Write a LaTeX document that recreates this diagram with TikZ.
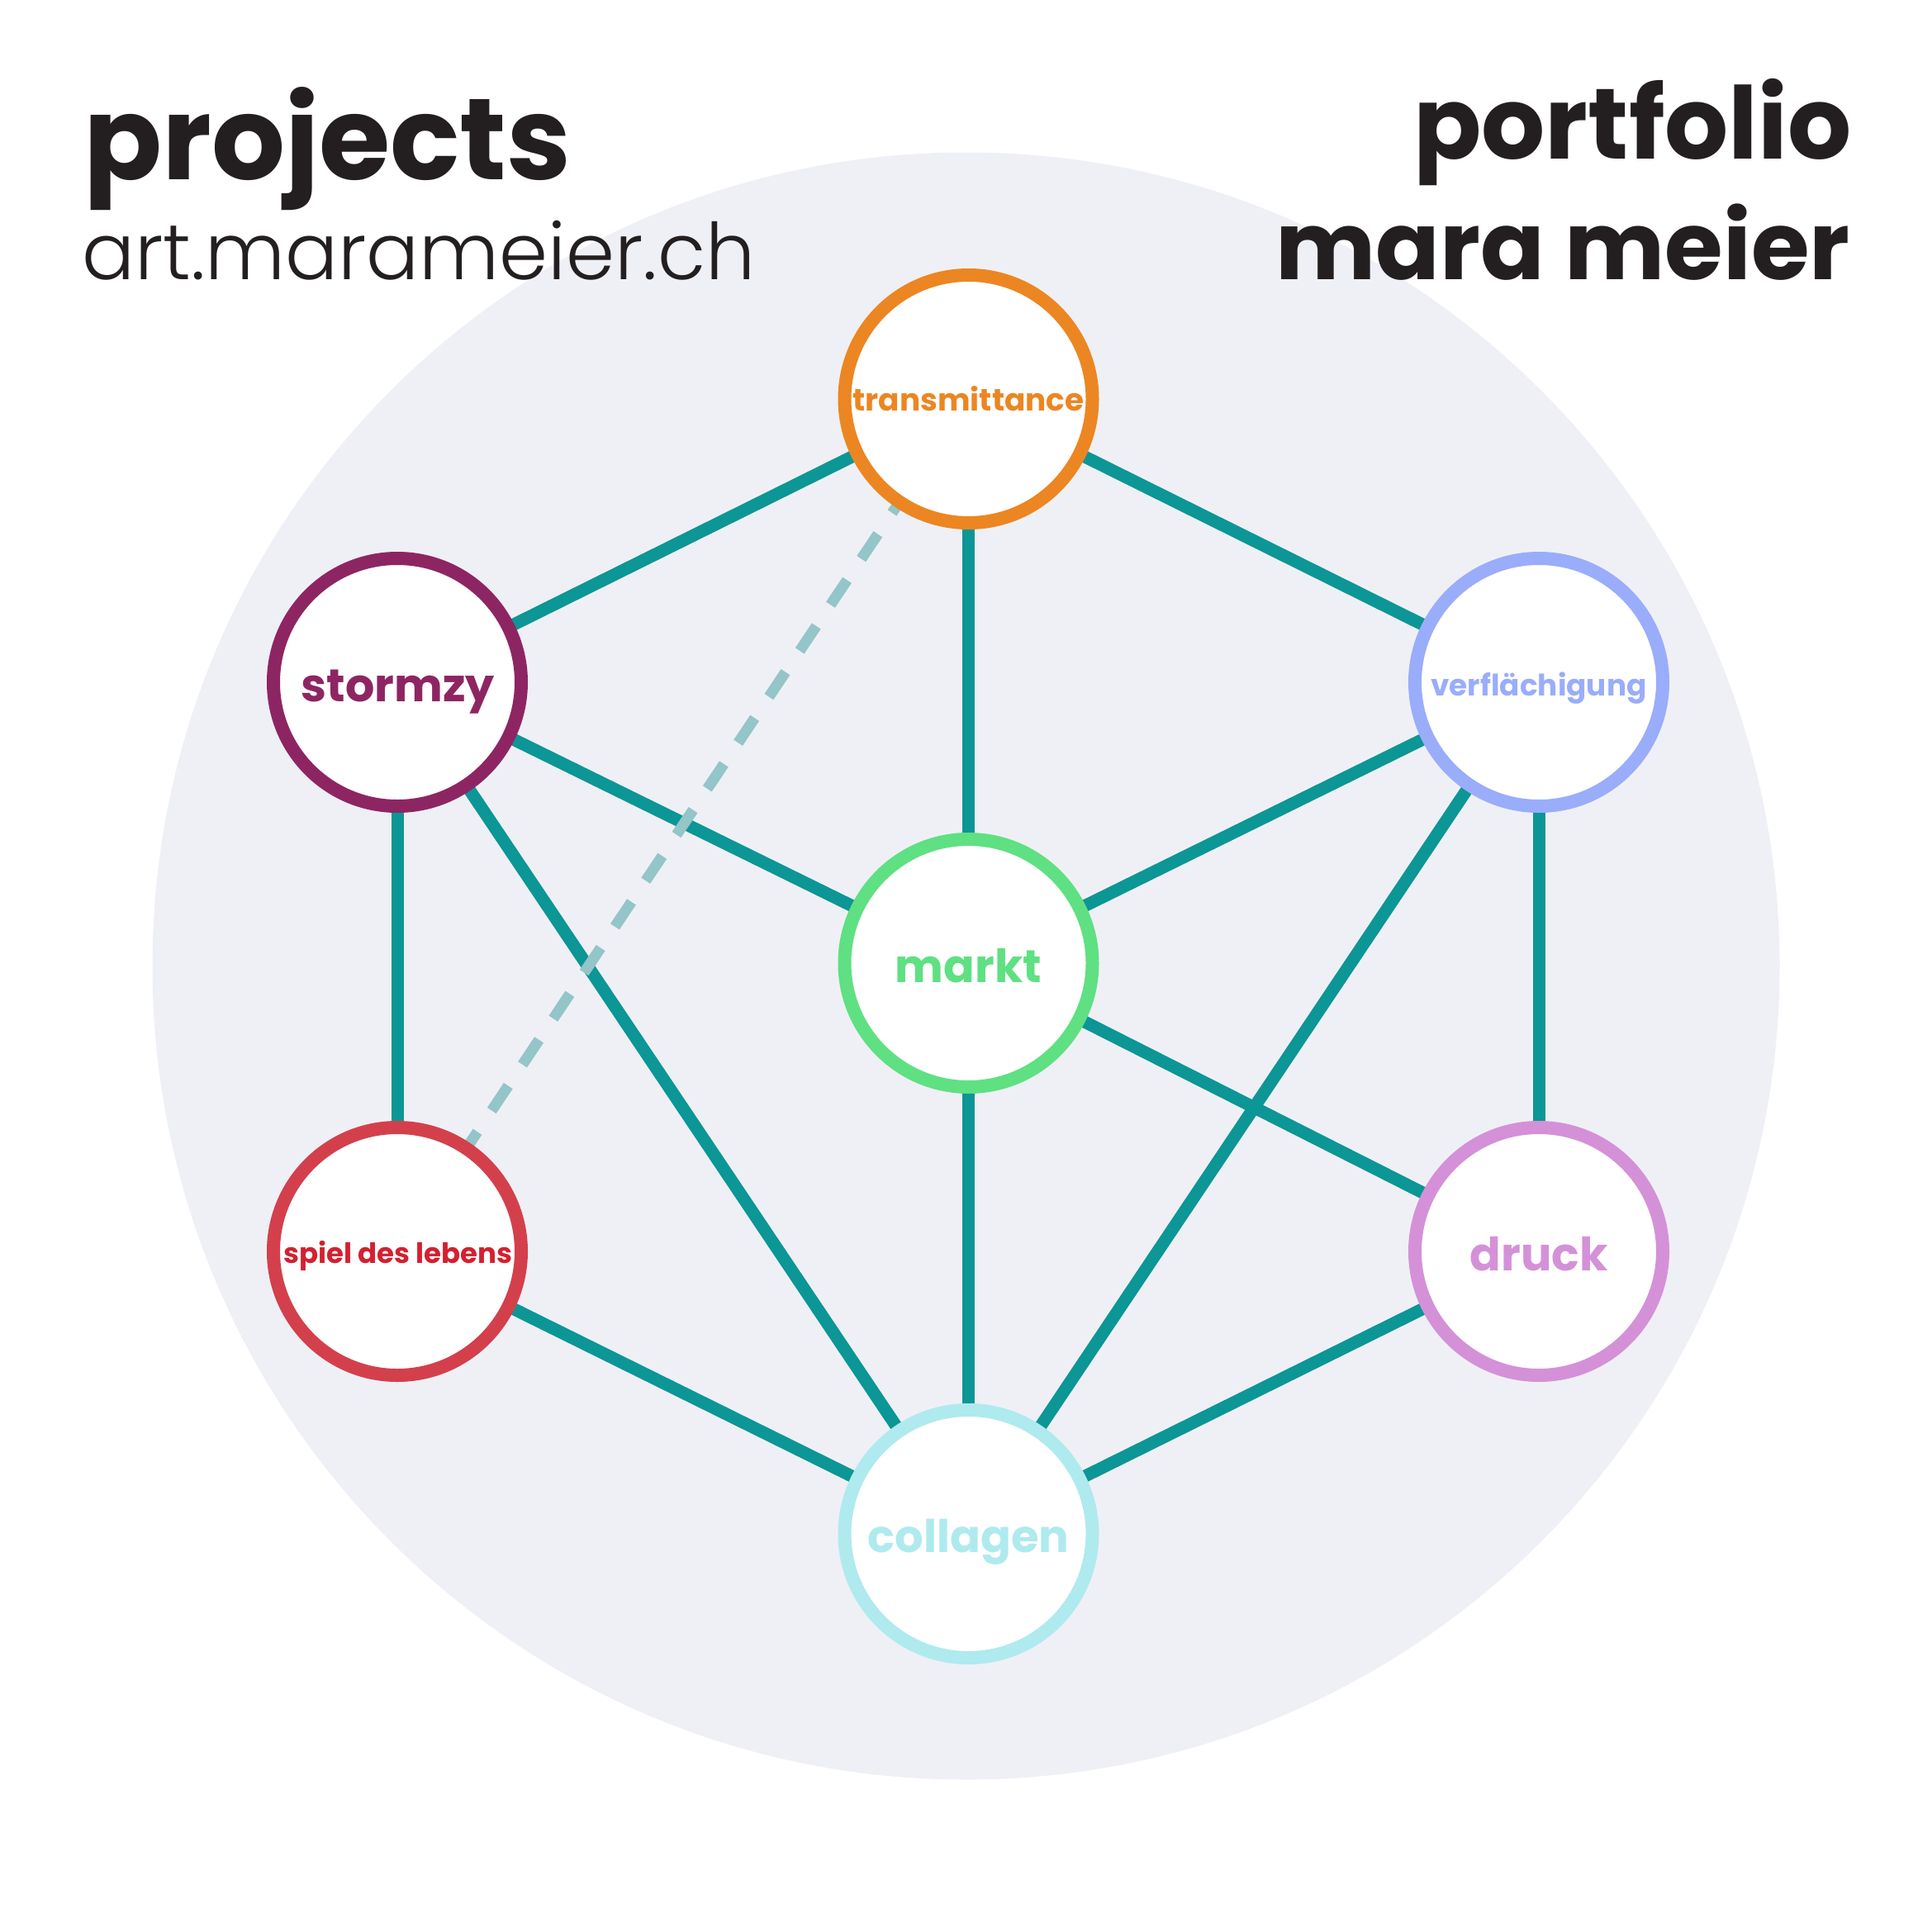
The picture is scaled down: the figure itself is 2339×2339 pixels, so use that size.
\documentclass[tikz,border=0pt]{standalone}
\usepackage{fontspec}
\setmainfont{Poppins}
\newfontfamily\poplight{Poppins Light}
\usepackage{graphicx}
\pgfdeclarelayer{bglayer}
\pgfdeclarelayer{edgelayer}
\pgfsetlayers{bglayer,edgelayer,main}
\definecolor{bgcol}{HTML}{EFF0F5}
\definecolor{linecol}{HTML}{0C9696}
\definecolor{dashcol}{HTML}{94C5C8}
\definecolor{titlecol}{HTML}{231F20}
\definecolor{cTrans}{HTML}{EC8622}
\definecolor{cStorm}{HTML}{8E2563}
\definecolor{cVerf}{HTML}{9AADFB}
\definecolor{cMarkt}{HTML}{5FE082}
\definecolor{cSpiel}{HTML}{D3404C}
\definecolor{cSpielT}{HTML}{D42030}
\definecolor{cDruck}{HTML}{D491D8}
\definecolor{cColl}{HTML}{AFEAEE}
\newcommand{\fitto}[2]{\resizebox{#1}{!}{#2}}
\tikzset{
  proj/.style={circle, minimum size=300pt, inner sep=0pt, line width=16pt, fill=white},
  edge/.style={line width=15pt, draw=linecol},
  dashedge/.style={line width=13pt, draw=dashcol, dash pattern=on 36pt off 31pt, dash phase=4pt},
  lbl/.style={anchor=base, inner sep=0pt},
  titleW/.style={anchor=base west, inner sep=0pt, text=titlecol},
  titleE/.style={anchor=base east, inner sep=0pt, text=titlecol}
}
\begin{document}
\begin{tikzpicture}[x=1pt,y=-1pt]
\useasboundingbox (0,0) rectangle (2339,2339);
\begin{pgfonlayer}{bglayer}
\fill[white] (0,0) rectangle (2339,2339);
\fill[bgcol] (1169.5,1169.5) circle[radius=985pt];
\end{pgfonlayer}

% titles
\node[titleW] (projects) at (101,217) {\fitto{590pt}{\bfseries projects}};
\node[titleW] (url) at (99,338) {\fitto{815pt}{\poplight art.marameier.ch}};
\node[titleE] (portfolio) at (2242,192) {\fitto{530pt}{\bfseries portfolio}};
\node[titleE] (mara) at (2240,338) {\fitto{695pt}{\bfseries mara meier}};

% project circles
\node[proj, draw=cTrans] (trans) at (1172.5,483) {};
\node[proj, draw=cStorm] (storm) at (481,826) {};
\node[proj, draw=cVerf] (verf) at (1863,826) {};
\node[proj, draw=cMarkt] (markt) at (1172.5,1166) {};
\node[proj, draw=cSpiel] (spiel) at (481,1515) {};
\node[proj, draw=cDruck] (druck) at (1863,1515) {};
\node[proj, draw=cColl] (coll) at (1172.5,1857) {};

% labels
\node[lbl, text=cTrans] (transL) at (1172.5,497) {\fitto{280pt}{\bfseries transmittance}};
\node[lbl, text=cStorm] (stormL) at (482,849) {\fitto{234pt}{\bfseries stormzy}};
\node[lbl, text=cVerf] (verfL) at (1863,842) {\fitto{261pt}{\bfseries verflächigung}};
\node[lbl, text=cMarkt] (marktL) at (1172.5,1189) {\fitto{177pt}{\bfseries markt}};
\node[lbl, text=cSpielT] (spielL) at (482,1529) {\fitto{277pt}{\bfseries spiel des lebens}};
\node[lbl, text=cDruck] (druckL) at (1863,1538) {\fitto{167pt}{\bfseries druck}};
\node[lbl, text=cColl] (collL) at (1172.5,1879) {\fitto{244pt}{\bfseries collagen}};

% connectors
\begin{pgfonlayer}{edgelayer}
\draw[edge] (trans.center) -- (storm.center);
\draw[edge] (trans.center) -- (verf.center);
\draw[edge] (trans.center) -- (markt.center);
\draw[edge] (storm.center) -- (markt.center);
\draw[edge] (storm.center) -- (spiel.center);
\draw[edge] (storm.center) -- (coll.center);
\draw[edge] (verf.center) -- (markt.center);
\draw[edge] (verf.center) -- (druck.center);
\draw[edge] (verf.center) -- (coll.center);
\draw[edge] (markt.center) -- (coll.center);
\draw[edge] (markt.center) -- (druck.center);
\draw[edge] (spiel.center) -- (coll.center);
\draw[edge] (druck.center) -- (coll.center);
\draw[dashedge] (trans.center) -- (spiel.center);
\end{pgfonlayer}
\end{tikzpicture}
\end{document}
